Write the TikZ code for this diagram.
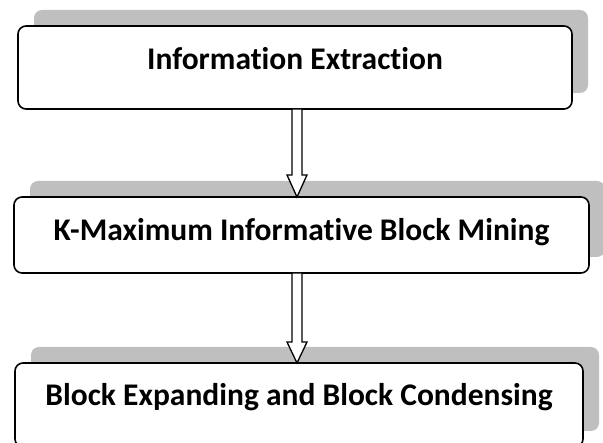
\documentclass[tikz,border=0pt]{standalone}
\usepackage{fontspec}
\setmainfont[Ligatures={NoCommon,NoRequired,NoContextual}]{Carlito}
\usetikzlibrary{shadows}
\definecolor{shadowgray}{RGB}{191,191,191}
\tikzset{
  stagebox/.style={draw=black, line width=1.6pt, fill=white, rounded corners=8pt,
    inner sep=0pt, outer sep=0pt,
    drop shadow={shadow xshift=16pt, shadow yshift=16pt, fill=shadowgray, opacity=1}},
  lbl/.style={font=\bfseries\fontsize{31.5}{37}\selectfont, inner sep=0pt, anchor=base},
  hollow/.style={draw=black, fill=white, line width=1.3pt, line join=miter}
}
\begin{document}
\begin{tikzpicture}[x=1pt,y=1pt]
\useasboundingbox (0,0) rectangle (603,443);
\clip (0,0) rectangle (603,443);
\node[stagebox, minimum width=554pt, minimum height=83pt] (b1) at (295,375.5) {};
\node[stagebox, minimum width=575pt, minimum height=76pt] (b2) at (301.5,208) {};
\node[stagebox, minimum width=568pt, minimum height=84pt] (b3) at (299,38) {};
\node[lbl] (t1) at ([yshift=-44pt]b1.north) {Information Extraction};
\node[lbl] (t2) at ([yshift=-44pt]b2.north) {K-Maximum Informative Block Mining};
\node[lbl] (t3) at ([yshift=-43pt]b3.north) {Block Expanding and Block Condensing};
\coordinate (tip1) at ([xshift=-4.5pt]b2.north);
\coordinate (tip2) at ([xshift=-2pt]b3.north);
\draw[hollow] ([xshift=2pt]b1.south) ++(-5,0) -- ++(0,-66) -- ++(-5,0) -- (tip1)
  -- ++(10,22) -- ++(-5,0) -- ++(0,66) -- cycle;
\draw[hollow] ([xshift=-4.5pt]b2.south) ++(-5,0) -- ++(0,-69) -- ++(-5,0) -- (tip2)
  -- ++(10,21) -- ++(-5,0) -- ++(0,69) -- cycle;
\end{tikzpicture}
\end{document}
